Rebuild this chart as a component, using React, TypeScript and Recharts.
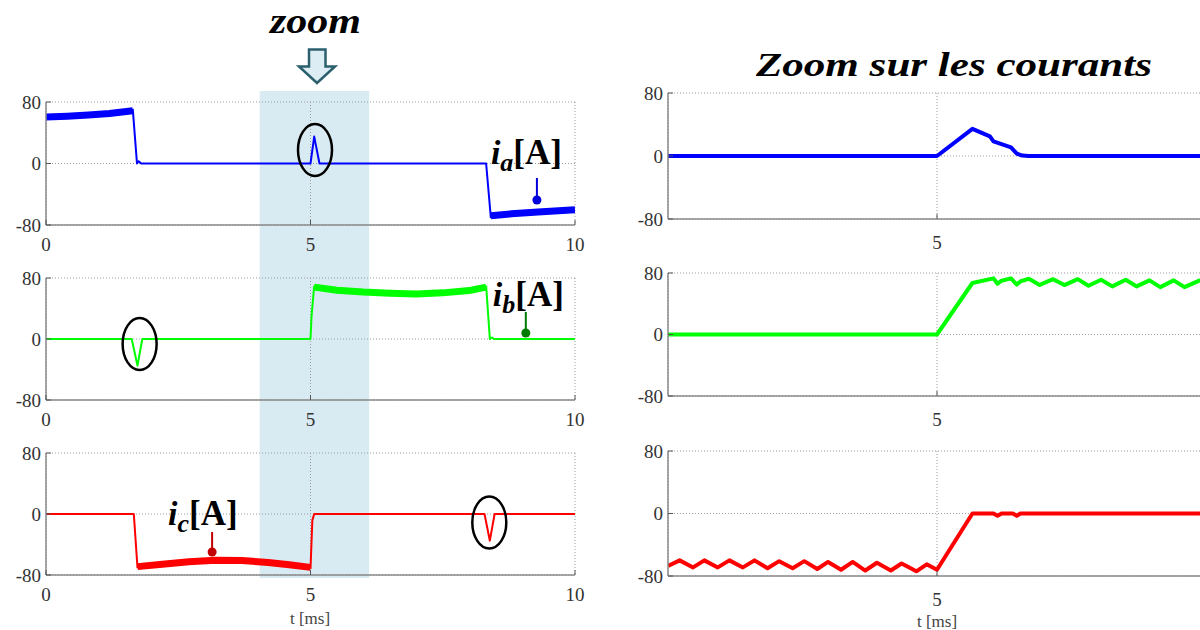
import React from 'react';
import { LineChart, Line, XAxis, YAxis, CartesianGrid, ReferenceArea, ReferenceDot } from 'recharts';

type Pt = [number, number | null];

// ---------- axis ticks ----------
const fullTicksX = [0, 5, 10];
const zoomTicksX = [5];
const ticksY = [-80, 0, 80];
const fullDomain: [number, number] = [0, 10];
const zoomDomain: [number, number] = [4.4, 5.6];
const zoomWindow = [4.04, 6.11];

// ---------- full window, i_a ----------
const iaPlateauHigh: Pt[] = [[0, 60.5], [0.4, 61.5], [0.8, 63], [1.2, 65], [1.64, 68.5]];
const iaPlateauLow: Pt[] = [[8.41, -68], [8.8, -65.5], [9.3, -63], [10, -60]];
const iaTrace: Pt[] = [[1.64, 71], [1.72, 0], [1.75, 3], [1.8, 0], [5.0, 0], [5.07, 35], [5.17, 0], [8.32, 0], [8.41, -71]];

// ---------- full window, i_b ----------
const ibPlateau: Pt[] = [[5.07, 68], [5.5, 64], [6.0, 61.5], [6.5, 60], [7.0, 59], [7.5, 60.5], [8.0, 63.5], [8.32, 68]];
const ibTrace: Pt[] = [[0, 0], [1.62, 0], [1.73, -35], [1.82, 0], [5.0, 0], [5.02, 30], [5.07, 70], [5.1, null], [8.3, null], [8.32, 70], [8.39, 0], [8.43, 2], [8.47, 0], [10, 0]];

// ---------- full window, i_c ----------
const icPlateau: Pt[] = [[1.73, -69], [2.2, -66], [2.7, -62.5], [3.2, -60.5], [3.7, -61], [4.2, -63.5], [4.6, -66.5], [5.0, -70]];
const icTrace: Pt[] = [[0, 0], [1.66, 0], [1.73, -71], [1.75, null], [4.98, null], [5.0, -72], [5.035, -8], [5.07, 0], [8.29, 0], [8.39, -35], [8.48, 0], [10, 0]];

// ---------- zoomed window ----------
const iaZoom: Pt[] = [[4.4, 0], [5.0, 0], [5.079, 34.5], [5.118, 25], [5.126, 18.5], [5.165, 11], [5.178, 3], [5.19, 0.5], [5.205, 0], [5.6, 0]];
const ibZoom: Pt[] = [
  [4.4, 0], [5.0, 0], [5.079, 67], [5.126, 73], [5.135, 66], [5.144, 70], [5.165, 73], [5.178, 65],
  [5.186, 69], [5.205, 72.5], [5.229, 64.5], [5.259, 72], [5.284, 64.3], [5.314, 72], [5.338, 63.4],
  [5.366, 71.3], [5.391, 62.6], [5.421, 71.3], [5.445, 62.6], [5.474, 70.4], [5.498, 61.6],
  [5.528, 70.4], [5.552, 61.6], [5.586, 70.4], [5.6, 69]
];
const icZoom: Pt[] = [
  [4.4, -67], [4.426, -60], [4.456, -69], [4.481, -60], [4.511, -69], [4.537, -60], [4.567, -69],
  [4.593, -60], [4.622, -70], [4.648, -61], [4.678, -70], [4.704, -61], [4.733, -71], [4.757, -62],
  [4.786, -72], [4.812, -62], [4.84, -73], [4.866, -63], [4.897, -73], [4.921, -64], [4.954, -74],
  [4.977, -65], [5.0, -72], [5.079, 0], [5.126, 0], [5.135, -3], [5.144, 0], [5.169, 0], [5.178, -3],
  [5.186, 0], [5.6, 0]
];

// ---------- annotations (data coordinates) ----------
const iaEllipse: [number, number] = [5.085, 17.6];
const ibEllipse: [number, number] = [1.77, -6.6];
const icEllipse: [number, number] = [8.38, -11.1];
const iaTag: [number, number] = [9.28, -47.5];
const ibTag: [number, number] = [9.07, 7.9];
const icTag: [number, number] = [3.14, -49.8];

const BLUE = '#0000ff';
const GREEN = '#00ff00';
const RED = '#ff0000';
const SERIF = 'Liberation Serif, DejaVu Serif, serif';

const rows = (pts: Pt[]) => pts.map(([t, v]) => ({ t, v }));

const makeXTick = (margin: number) => (props: any) => (
  <g>
    <line x1={props.x} x2={props.x} y1={props.y - margin} y2={props.y - margin - 5} stroke="#555" strokeWidth={1} />
    <text x={props.x} y={props.y} dy={13.5} textAnchor="middle" style={{ fontFamily: SERIF, fontSize: 19 }} fill="#333">
      {props.payload.value}
    </text>
  </g>
);
const YTick = (props: any) => (
  <g>
    <line x1={props.x + 5} x2={props.x + 10} y1={props.y} y2={props.y} stroke="#555" strokeWidth={1} />
    <text x={props.x} y={props.y} dy={6.5} textAnchor="end" style={{ fontFamily: SERIF, fontSize: 19 }} fill="#333">
      {props.payload.value}
    </text>
  </g>
);

const EllipseShape = (props: any) => (
  <ellipse cx={props.cx} cy={props.cy} rx={17} ry={26} fill="none" stroke="#000" strokeWidth={2.5} />
);

const makeTag = (color: string, sub: string, dx: number, dy: number, len: number) => (props: any) => {
  const { cx, cy } = props;
  return (
    <g>
      <line x1={cx} y1={cy - len} x2={cx} y2={cy} stroke={color} strokeWidth={2} />
      <circle cx={cx} cy={cy} r={4.5} fill={color} />
      <text x={cx + dx} y={cy + dy} style={{ fontFamily: SERIF }} fill="#000">
        <tspan style={{ fontSize: 34, fontWeight: 'bold', fontStyle: 'italic' }}>i</tspan>
        <tspan style={{ fontSize: 26, fontWeight: 'bold', fontStyle: 'italic' }} dy={7}>{sub}</tspan>
        <tspan style={{ fontSize: 35, fontWeight: 'bold' }} dy={-7}>[A]</tspan>
      </text>
    </g>
  );
};

type SeriesDef = { pts: Pt[]; color: string; width: number };
type Props = {
  left: number; top: number; width: number; plotHeight: number;
  marginLeft: number; marginRight: number; xAxisHeight: number;
  domain: [number, number]; xTicks: number[]; tickMargin: number;
  series: SeriesDef[]; extras?: React.ReactNode;
};

function Panel(p: Props) {
  const height = 10 + p.plotHeight + p.xAxisHeight;
  const XT = makeXTick(p.tickMargin);
  return (
    <div style={{ position: 'absolute', left: p.left, top: p.top }}>
      <LineChart width={p.width} height={height}
        margin={{ top: 10, right: p.marginRight, bottom: 0, left: p.marginLeft }}>
        <CartesianGrid stroke="#9a9a9a" strokeDasharray="1 2" />
        <XAxis type="number" dataKey="t" domain={p.domain} ticks={p.xTicks} allowDataOverflow
          height={p.xAxisHeight} tickLine={false} tickSize={0} tickMargin={p.tickMargin}
          axisLine={{ stroke: '#8a8a8a', strokeWidth: 1.5 }} tick={<XT />} />
        <YAxis type="number" domain={[-80, 80]} ticks={ticksY} width={40} allowDataOverflow
          tickLine={false} tickSize={0} tickMargin={5}
          axisLine={{ stroke: '#8a8a8a', strokeWidth: 1.5 }} tick={<YTick />} />
        {p.series.map((s, i) => (
          <Line key={i} data={rows(s.pts)} dataKey="v" type="linear" dot={false} activeDot={false}
            stroke={s.color} strokeWidth={s.width} strokeLinejoin="round" strokeLinecap="butt"
            isAnimationActive={false} connectNulls={false} />
        ))}
        {p.extras}
      </LineChart>
    </div>
  );
}

const shadeRows = [{ t: 0, v: 0 }, { t: 10, v: 1 }];

export default function App() {
  return (
    <div style={{ position: 'absolute', left: 0, top: 0, width: 1200, height: 630, overflow: 'hidden', background: '#fff' }}>
      {/* zoom window shading behind left column */}
      <div style={{ position: 'absolute', left: 0, top: 0 }}>
        <LineChart width={600} height={630} data={shadeRows}
          margin={{ top: 91, right: 25, bottom: 52, left: 46 }}>
          <XAxis type="number" dataKey="t" domain={fullDomain} height={0} tick={false} axisLine={false} tickLine={false} />
          <YAxis type="number" domain={[0, 1]} width={0} tick={false} axisLine={false} tickLine={false} />
          <ReferenceArea x1={zoomWindow[0]} x2={zoomWindow[1]} y1={0} y2={1} fill="#d9ebf2" fillOpacity={1} stroke="none" ifOverflow="visible" />
          <Line dataKey="v" stroke="none" dot={false} activeDot={false} isAnimationActive={false} />
        </LineChart>
      </div>

      {/* left column: full window */}
      <Panel left={0} top={92} width={600} plotHeight={123} marginLeft={6} marginRight={25} xAxisHeight={40}
        domain={fullDomain} xTicks={fullTicksX} tickMargin={12}
        series={[
          { pts: iaTrace, color: BLUE, width: 2 },
          { pts: iaPlateauHigh, color: BLUE, width: 7 },
          { pts: iaPlateauLow, color: BLUE, width: 7 },
        ]}
        extras={[
          <ReferenceDot key="e" x={iaEllipse[0]} y={iaEllipse[1]} shape={EllipseShape} ifOverflow="visible" />,
          <ReferenceDot key="t" x={iaTag[0]} y={iaTag[1]} shape={makeTag('#0000dd', 'a', -46, -36, 22)} ifOverflow="visible" />,
        ]} />
      <Panel left={0} top={268} width={600} plotHeight={122} marginLeft={6} marginRight={25} xAxisHeight={40}
        domain={fullDomain} xTicks={fullTicksX} tickMargin={12}
        series={[
          { pts: ibTrace, color: GREEN, width: 2 },
          { pts: ibPlateau, color: GREEN, width: 7 },
        ]}
        extras={[
          <ReferenceDot key="e" x={ibEllipse[0]} y={ibEllipse[1]} shape={EllipseShape} ifOverflow="visible" />,
          <ReferenceDot key="t" x={ibTag[0]} y={ibTag[1]} shape={makeTag('#007a00', 'b', -33, -27, 21)} ifOverflow="visible" />,
        ]} />
      <Panel left={0} top={443} width={600} plotHeight={122} marginLeft={6} marginRight={25} xAxisHeight={55}
        domain={fullDomain} xTicks={fullTicksX} tickMargin={12}
        series={[
          { pts: icTrace, color: RED, width: 2 },
          { pts: icPlateau, color: RED, width: 7 },
        ]}
        extras={[
          <ReferenceDot key="e" x={icEllipse[0]} y={icEllipse[1]} shape={EllipseShape} ifOverflow="visible" />,
          <ReferenceDot key="t" x={icTag[0]} y={icTag[1]} shape={makeTag('#c00000', 'c', -44, -27, 20)} ifOverflow="visible" />,
        ]} />

      {/* right column: zoomed window */}
      <Panel left={620} top={83} width={600} plotHeight={126} marginLeft={8} marginRight={14} xAxisHeight={40}
        domain={zoomDomain} xTicks={zoomTicksX} tickMargin={16}
        series={[{ pts: iaZoom, color: BLUE, width: 4 }]} />
      <Panel left={620} top={263} width={600} plotHeight={123} marginLeft={8} marginRight={14} xAxisHeight={40}
        domain={zoomDomain} xTicks={zoomTicksX} tickMargin={16}
        series={[{ pts: ibZoom, color: GREEN, width: 4 }]} />
      <Panel left={620} top={441} width={600} plotHeight={125} marginLeft={8} marginRight={14} xAxisHeight={55}
        domain={zoomDomain} xTicks={zoomTicksX} tickMargin={16}
        series={[{ pts: icZoom, color: RED, width: 4 }]} />

      {/* titles, axis titles and zoom arrow */}
      <svg width={1200} height={630} style={{ position: 'absolute', left: 0, top: 0, pointerEvents: 'none' }}>
        <text x={270} y={33} style={{ fontFamily: SERIF, fontSize: 36, fontStyle: 'italic', fontWeight: 'bold' }}
          textLength={91} lengthAdjust="spacingAndGlyphs" fill="#000">zoom</text>
        <polygon points="309,49.5 325.5,49.5 325.5,66.5 335,66.5 317,83 299,66.5 309,66.5"
          fill="#dcedf3" stroke="#2c5f6e" strokeWidth={2.5} strokeLinejoin="miter" />
        <text x={756} y={76} style={{ fontFamily: SERIF, fontSize: 34, fontStyle: 'italic', fontWeight: 'bold' }}
          textLength={396} lengthAdjust="spacingAndGlyphs" fill="#000">Zoom sur les courants</text>
        <text x={310} y={624} textAnchor="middle" style={{ fontFamily: SERIF, fontSize: 17 }} fill="#444">t [ms]</text>
        <text x={937} y={627} textAnchor="middle" style={{ fontFamily: SERIF, fontSize: 17 }} fill="#444">t [ms]</text>
      </svg>
    </div>
  );
}
